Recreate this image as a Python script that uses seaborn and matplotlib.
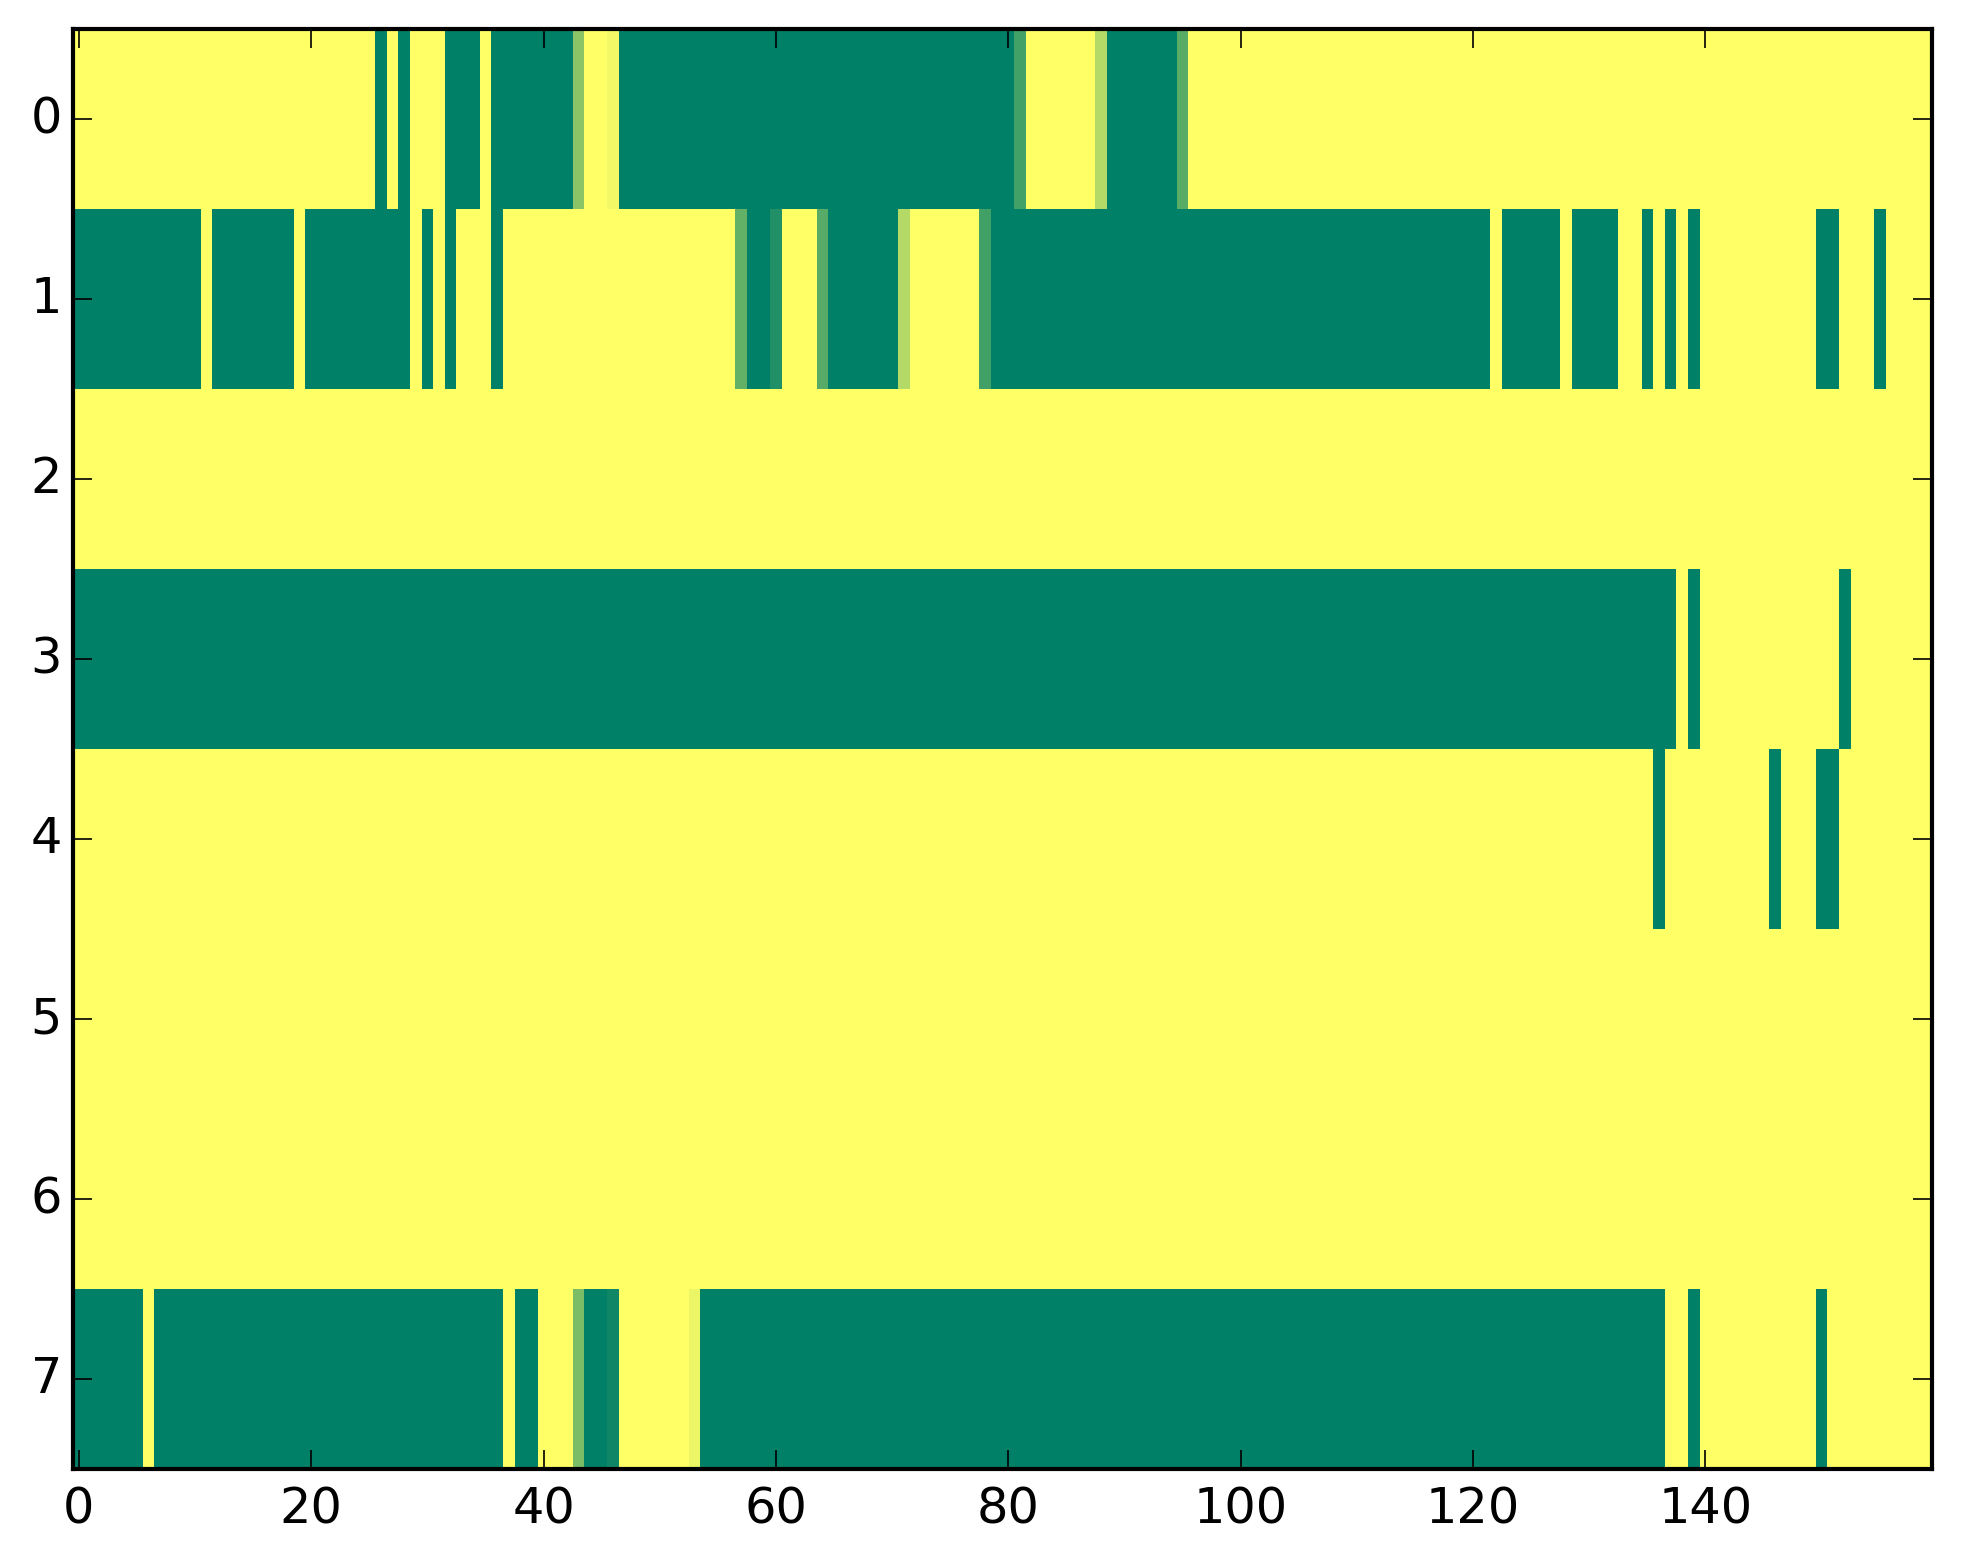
import numpy as np
import matplotlib
matplotlib.use("Agg")
import matplotlib.pyplot as plt
import seaborn as sns

# Each row as (value, run length) pairs; 160 columns per row
row0_runs = [(1, 26), (0, 1), (1, 1), (0, 1), (1, 3), (0, 3), (1, 1), (0, 7),
             (0.54, 1), (1, 2), (0.95, 1), (0, 34), (0.26, 1), (1, 6), (0.70, 1),
             (0, 6), (0.35, 1), (1, 64)]
row1_runs = [(0, 11), (1, 1), (0, 7), (1, 1), (0, 9), (1, 1), (0, 1), (1, 1), (0, 1),
             (1, 3), (0, 1), (1, 20), (0.39, 1), (0, 2), (0.13, 1), (1, 3), (0.34, 1),
             (0, 6), (0.70, 1), (1, 6), (0.25, 1), (0, 43), (1, 1), (0, 5), (1, 1),
             (0, 4), (1, 2), (0, 1), (1, 1), (0, 1), (1, 1), (0, 1), (1, 10), (0, 2),
             (1, 3), (0, 1), (1, 4)]
row2_runs = [(1, 160)]
row3_runs = [(0, 138), (1, 1), (0, 1), (1, 12), (0, 1), (1, 7)]
row4_runs = [(1, 136), (0, 1), (1, 9), (0, 1), (1, 3), (0, 2), (1, 8)]
row5_runs = [(1, 160)]
row6_runs = [(1, 160)]
row7_runs = [(0, 6), (1, 1), (0, 30), (1, 1), (0, 2), (1, 3), (0.48, 1), (0, 2),
             (0.06, 1), (1, 6), (0.92, 1), (0, 83), (1, 2), (0, 1), (1, 10), (0, 1),
             (1, 9)]

row_labels = ["0", "1", "2", "3", "4", "5", "6", "7"]
x_tick_values = [0, 20, 40, 60, 80, 100, 120, 140]


def expand(runs):
    out = []
    for v, n in runs:
        out.extend([v] * n)
    return out


rows = [row0_runs, row1_runs, row2_runs, row3_runs,
        row4_runs, row5_runs, row6_runs, row7_runs]
data = np.array([expand(r) for r in rows], dtype=float)

dpi = 200
fig = plt.figure(figsize=(1963 / dpi, 1564 / dpi), dpi=dpi)
ax = fig.add_axes([73 / 1963, 1 - 1469 / 1564, (1932 - 73) / 1963, (1469 - 29) / 1564])

sns.heatmap(data, cmap="summer", vmin=0, vmax=1, cbar=False, ax=ax)

for s in ax.spines.values():
    s.set_visible(True)
    s.set_color("black")
    s.set_linewidth(1.5)

ax.set_xticks(np.array(x_tick_values) + 0.5)
ax.set_xticklabels([str(v) for v in x_tick_values], rotation=0)
ax.set_yticks(np.arange(len(row_labels)) + 0.5)
ax.set_yticklabels(row_labels, rotation=0, va="center")

ax.tick_params(axis="both", which="both", direction="in", top=True, right=True,
               bottom=True, left=True, length=7, width=0.6, color="black",
               labelsize=17.8, labelcolor="black")
ax.tick_params(axis="x", pad=5.8)
ax.tick_params(axis="y", pad=4)
for lab in ax.get_xticklabels() + ax.get_yticklabels():
    lab.set_fontfamily("DejaVu Sans")

fig.savefig("out.png", dpi=dpi)
